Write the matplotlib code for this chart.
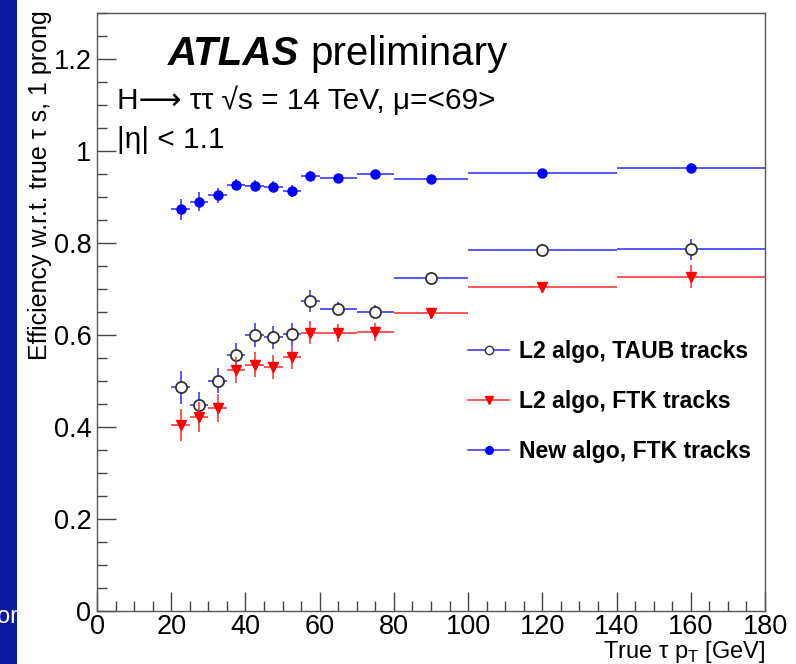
import matplotlib.pyplot as plt
from matplotlib.lines import Line2D
from matplotlib.patches import Rectangle
from matplotlib.ticker import MultipleLocator
import numpy as np

plt.rcParams['font.family'] = ['Liberation Sans', 'DejaVu Sans']
plt.rcParams['mathtext.fontset'] = 'custom'
plt.rcParams['mathtext.rm'] = 'Liberation Sans'

# bin edges in true tau pT [GeV]
pt_edges = [20, 25, 30, 35, 40, 45, 50, 55, 60, 70, 80, 100, 140, 180]

new_eff = [0.873, 0.890, 0.904, 0.927, 0.925, 0.922, 0.914, 0.946, 0.942, 0.951, 0.939, 0.953, 0.963]
new_err = [0.022, 0.021, 0.016, 0.012, 0.012, 0.012, 0.013, 0.010, 0.006, 0.005, 0.005, 0.005, 0.011]
taub_eff = [0.486, 0.448, 0.501, 0.557, 0.601, 0.595, 0.603, 0.674, 0.657, 0.651, 0.725, 0.785, 0.786]
taub_err = [0.035, 0.028, 0.027, 0.026, 0.026, 0.025, 0.024, 0.024, 0.015, 0.015, 0.012, 0.012, 0.023]
ftk_eff = [0.404, 0.422, 0.441, 0.524, 0.535, 0.530, 0.552, 0.605, 0.604, 0.607, 0.647, 0.704, 0.727]
ftk_err = [0.035, 0.033, 0.031, 0.028, 0.027, 0.026, 0.026, 0.025, 0.020, 0.020, 0.012, 0.012, 0.025]

labels = ['L2 algo, TAUB tracks', 'L2 algo, FTK tracks', 'New algo, FTK tracks']

edges = np.array(pt_edges)
xc = (edges[:-1] + edges[1:]) / 2
xw = (edges[1:] - edges[:-1]) / 2

fig = plt.figure(figsize=(7.96, 6.64), dpi=100)
ax = fig.add_axes([0.1219, 0.0798, 0.8392, 0.9006])

blue = '#2a2aff'
red = '#ff2a2a'

ax.errorbar(xc, taub_eff, xerr=xw, yerr=taub_err, fmt='o', ms=8, mfc='white',
            mec='#333333', mew=1.3, ecolor=blue, elinewidth=1.1, capsize=0, zorder=3)
ax.errorbar(xc, ftk_eff, xerr=xw, yerr=ftk_err, fmt='v', ms=7, mfc='red',
            mec='red', ecolor=red, elinewidth=1.1, capsize=0, zorder=4)
ax.errorbar(xc, new_eff, xerr=xw, yerr=new_err, fmt='o', ms=6.5, mfc='blue',
            mec='blue', ecolor=blue, elinewidth=1.1, capsize=0, zorder=5)

ax.set_xlim(0, 180)
ax.set_ylim(0, 1.3)
ax.xaxis.set_major_locator(MultipleLocator(20))
ax.xaxis.set_minor_locator(MultipleLocator(5))
ax.yaxis.set_minor_locator(MultipleLocator(0.05))
ax.set_yticks([0, 0.2, 0.4, 0.6, 0.8, 1.0, 1.2])
ax.set_yticklabels(['0', '0.2', '0.4', '0.6', '0.8', '1', '1.2'])
ax.tick_params(which='both', direction='in', labelsize=19.5, color='#444444')
ax.tick_params(which='major', length=14, width=1)
ax.tick_params(which='minor', length=7, width=1)
ax.tick_params(axis='y', pad=4)
ax.tick_params(axis='x', pad=2)
for sp in ax.spines.values():
    sp.set_color('#555555')
    sp.set_linewidth(1)

ax.set_ylabel('Efficiency w.r.t. true τ s, 1 prong', fontsize=18, loc='top')
ax.yaxis.set_label_coords(-0.068, 1.005)
ax.set_xlabel('True τ p$_\\mathregular{T}$ [GeV]', fontsize=17, loc='right')
ax.xaxis.set_label_coords(1.0, -0.0475)

ax.text(19, 1.21, 'ATLAS', fontsize=29, fontweight='bold', style='italic', va='center')
ax.text(57.4, 1.21, 'preliminary', fontsize=29, va='center')
ax.text(5.5, 1.11, 'H\u27f6 ττ \u221as = 14 TeV, μ=<69>', fontsize=21.5, va='center')
ax.text(5.5, 1.025, '|η| < 1.1', fontsize=21.5, va='center')

handles = [
    Line2D([], [], color=blue, lw=1.1, marker='o', ms=6, mfc='white', mec='#333333'),
    Line2D([], [], color=red, lw=1.1, marker='v', ms=6, mfc='red', mec='red'),
    Line2D([], [], color=blue, lw=1.1, marker='o', ms=5.5, mfc='blue', mec='blue'),
]
ax.legend(handles, labels, loc='upper left', bbox_to_anchor=(0.555, 0.453),
          frameon=False, prop={'weight': 'bold', 'size': 16.6},
          borderpad=0, borderaxespad=0,
          handlelength=1.8, handletextpad=0.43, labelspacing=1.16)

# slide background strip on the left
strip = Rectangle((0, 0), 17 / 796, 1, transform=fig.transFigure,
                  facecolor='#0b1aa0', edgecolor='none', zorder=0)
fig.patches.append(strip)
t = fig.text(-0.004, 1 - 617 / 664, 'or', color='white', fontsize=17, va='center')
t.set_clip_path(strip)

fig.savefig('out.png', dpi=100)
